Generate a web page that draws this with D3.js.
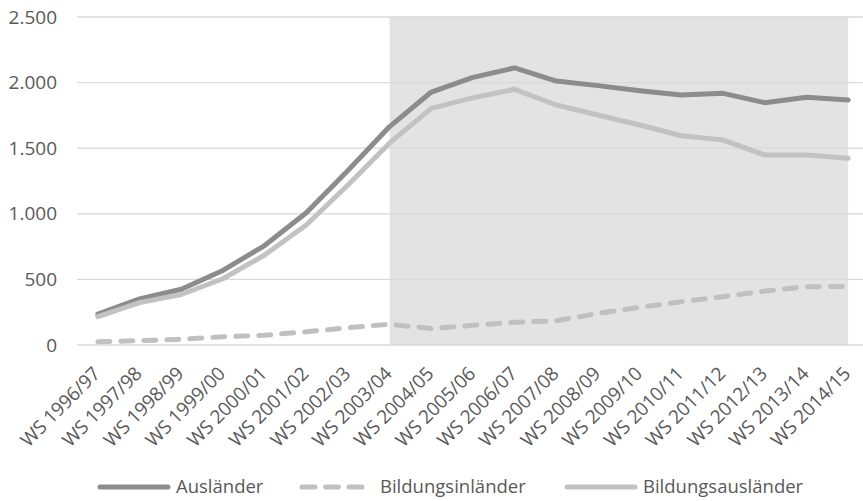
<!DOCTYPE html>
<html>
<head>
<meta charset="utf-8">
<script src="https://cdn.jsdelivr.net/npm/d3@7"></script>
<style>
	body { margin: 0; background: #fff; }
	svg text { font-family: "Open Sans", Lato, sans-serif; fill: #595959; }
</style>
</head>
<body>
<div id="chart"></div>
<script>
var semesters = ["WS 1996/97","WS 1997/98","WS 1998/99","WS 1999/00","WS 2000/01","WS 2001/02","WS 2002/03","WS 2003/04","WS 2004/05","WS 2005/06","WS 2006/07","WS 2007/08","WS 2008/09","WS 2009/10","WS 2010/11","WS 2011/12","WS 2012/13","WS 2013/14","WS 2014/15"];
var auslaender = [235, 352, 425, 568, 758, 1008, 1330, 1665, 1928, 2040, 2112, 2012, 1977, 1938, 1905, 1918, 1847, 1888, 1867];
var bildungsinlaender = [25, 33, 43, 63, 74, 101, 132, 158, 125, 150, 173, 185, 241, 287, 330, 368, 411, 444, 447];
var bildungsauslaender = [216, 323, 385, 505, 686, 915, 1220, 1540, 1804, 1885, 1949, 1829, 1753, 1677, 1595, 1562, 1448, 1448, 1423];
var yTicks = [0, 500, 1000, 1500, 2000, 2500];
var shadeFrom = "WS 2003/04", shadeTo = "WS 2014/15";

var series = [
	{ name: "Ausländer",          values: auslaender,          color: "#8c8c8c", dash: null },
	{ name: "Bildungsinländer",   values: bildungsinlaender,   color: "#c0c0c0", dash: "12,11" },
	{ name: "Bildungsausländer",  values: bildungsauslaender,  color: "#c2c2c2", dash: null }
];

var width = 863, height = 501;
var margin = {top: 17, right: -6, bottom: 156, left: 77};

var svg = d3.select("#chart").append("svg")
	.attr("width", width).attr("height", height);

var x = d3.scalePoint()
	.domain(semesters)
	.range([margin.left, width - margin.right])
	.padding(0.5);
var y = d3.scaleLinear()
	.domain([0, 2500])
	.range([height - margin.bottom, margin.top]);

var fmt = function(v){ return d3.format(",")(v).replace(/,/g, "."); };

// shaded period
svg.append("rect")
	.attr("x", x(shadeFrom)).attr("y", y(2500))
	.attr("width", x(shadeTo) - x(shadeFrom))
	.attr("height", y(0) - y(2500))
	.attr("fill", "#e3e3e3");

// gridlines
svg.append("g").selectAll("line")
	.data(yTicks).enter().append("line")
	.attr("x1", margin.left).attr("x2", width - margin.right)
	.attr("y1", function(d){ return y(d); }).attr("y2", function(d){ return y(d); })
	.attr("stroke", "#d9d9d9").attr("stroke-width", 1.3);

// y labels
var yAxis = svg.append("g")
	.attr("transform", "translate(" + (margin.left - 20) + ",0)")
	.call(d3.axisLeft(y).tickValues(yTicks).tickFormat(fmt).tickSize(0).tickPadding(0));
yAxis.select(".domain").remove();
yAxis.selectAll("text").style("font-size", "19px");

// x labels
var xAxis = svg.append("g")
	.attr("transform", "translate(0," + y(0) + ")")
	.call(d3.axisBottom(x).tickSize(0).tickPadding(0));
xAxis.select(".domain").remove();
xAxis.selectAll("text")
	.style("font-size", "19px")
	.style("letter-spacing", "-0.2px")
	.attr("text-anchor", "end")
	.attr("dy", 0)
	.attr("transform", "translate(3,30) rotate(-45)");

// lines
var line = d3.line()
	.x(function(d, i){ return x(semesters[i]); })
	.y(function(d){ return y(d); });

svg.append("g").selectAll("path")
	.data(series).enter().append("path")
	.attr("d", function(s){ return line(s.values); })
	.attr("fill", "none")
	.attr("stroke", function(s){ return s.color; })
	.attr("stroke-width", 5)
	.attr("stroke-linejoin", "round")
	.attr("stroke-linecap", "round")
	.attr("stroke-dasharray", function(s){ return s.dash; });

// legend
var legendX = [100, 302, 567];
var legend = svg.append("g").selectAll("g")
	.data(series).enter().append("g")
	.attr("transform", function(d, i){ return "translate(" + legendX[i] + ",487)"; });
legend.append("line")
	.attr("x1", 0).attr("x2", function(d){ return d.dash ? 64 : 68; })
	.attr("stroke", function(d){ return d.color; })
	.attr("stroke-width", 5)
	.attr("stroke-linecap", "round")
	.attr("stroke-dasharray", function(d){ return d.dash ? "13,10.5" : null; });
legend.append("text")
	.attr("x", function(d){ return d.dash ? 78 : 76; })
	.attr("dy", "0.35em")
	.style("font-size", "18.5px")
	.text(function(d){ return d.name; });
</script>
</body>
</html>
